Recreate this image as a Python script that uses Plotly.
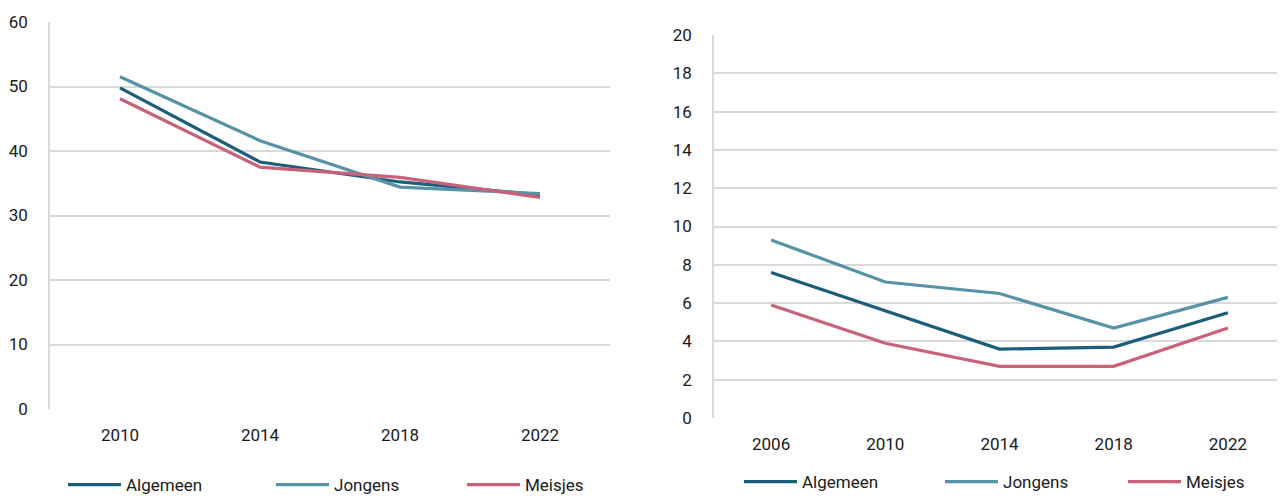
import plotly.graph_objects as go

years_left = ["2010", "2014", "2018", "2022"]
alg_left = [49.8, 38.3, 35.2, 33.2]
jon_left = [51.5, 41.6, 34.4, 33.4]
mei_left = [48.1, 37.5, 35.9, 32.8]

years_right = ["2006", "2010", "2014", "2018", "2022"]
alg_right = [7.6, 5.6, 3.6, 3.7, 5.5]
jon_right = [9.3, 7.1, 6.5, 4.7, 6.3]
mei_right = [5.9, 3.9, 2.7, 2.7, 4.7]

names = ["Algemeen", "Jongens", "Meisjes"]
colors = ["#1c5d79", "#5892a7", "#c8627b"]

FONT = "Roboto"
OFF = 8                      # page body margin in the browser
W, H = 1285 - OFF, 504 - OFF
TXT = "#1a1a1a"


def fx(px):
    return (px - OFF) / W


def fy(py):
    return 1 - (py - OFF) / H


# legend line start positions (screen px) for each item
leg_left_x = [69, 277, 468]
leg_right_x = [745, 946, 1129]

fig = go.Figure()
for i, (name, col, ys) in enumerate(zip(names, colors, [alg_left, jon_left, mei_left])):
    fig.add_trace(go.Scatter(x=years_left, y=ys, mode="lines", name=name,
                             line=dict(color=col, width=3.2),
                             xaxis="x", yaxis="y",
                             legend="legend" if i == 0 else f"legend{i + 1}"))
for i, (name, col, ys) in enumerate(zip(names, colors, [alg_right, jon_right, mei_right])):
    fig.add_trace(go.Scatter(x=years_right, y=ys, mode="lines", name=name,
                             line=dict(color=col, width=3.2),
                             xaxis="x2", yaxis="y2", legend=f"legend{i + 4}"))

grid = "#d9d9d9"
common_x = dict(type="category", showgrid=False, zeroline=False, showline=False,
                ticks="", automargin=False,
                tickfont=dict(size=17, color=TXT, family=FONT),
                ticklabelstandoff=14)
common_y = dict(showgrid=True, gridcolor=grid, gridwidth=1.5, zeroline=False,
                showline=True, linecolor=grid, linewidth=1.5, ticks="",
                automargin=False,
                tickfont=dict(size=17, color=TXT, family=FONT),
                ticklabelstandoff=17)

layout = dict(
    width=W, height=H,
    margin=dict(l=0, r=0, t=0, b=0, pad=0, autoexpand=False),
    paper_bgcolor="white", plot_bgcolor="white",
    font=dict(family=FONT, size=17, color=TXT),
    xaxis=dict(domain=[fx(50), fx(610)], anchor="y", range=[-0.5, 3.5], **common_x),
    yaxis=dict(domain=[fy(409), fy(22)], anchor="x", range=[0, 60],
               tick0=0, dtick=10, **common_y),
    xaxis2=dict(domain=[fx(714), 1.0], anchor="y2", range=[-0.5, 4.5], **common_x),
    yaxis2=dict(domain=[fy(418), fy(35)], anchor="x2", range=[0, 20],
                tick0=0, dtick=2, **common_y),
    showlegend=True,
)


def leg(xpx, ypx):
    return dict(orientation="h", xref="container", yref="container",
                x=fx(xpx - 6), xanchor="left", y=fy(ypx),
                yanchor="middle", itemwidth=53,
                font=dict(size=17, family=FONT, color=TXT),
                bgcolor="rgba(0,0,0,0)")


for i, xp in enumerate(leg_left_x):
    key = "legend" if i == 0 else f"legend{i + 1}"
    layout[key] = leg(xp, 485)
for i, xp in enumerate(leg_right_x):
    layout[f"legend{i + 4}"] = leg(xp, 482)

fig.update_layout(**layout)
fig.write_html("out.html")
